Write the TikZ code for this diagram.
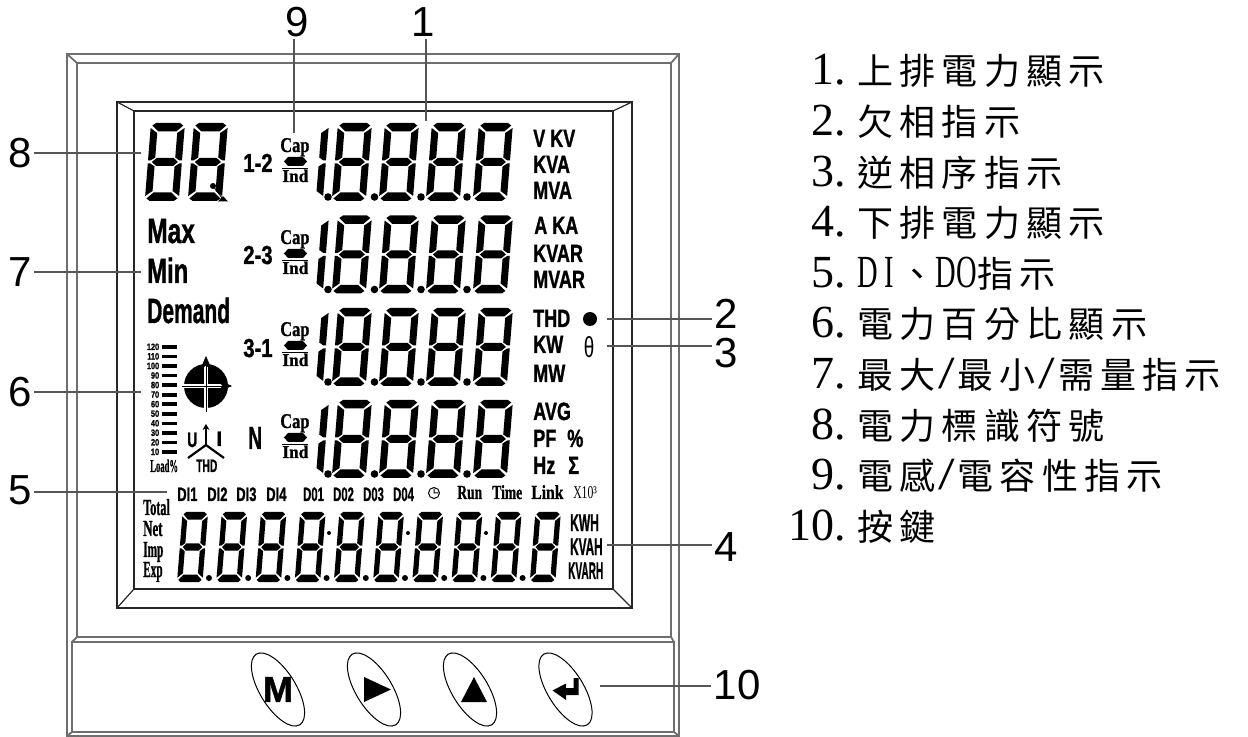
\documentclass[tikz,border=0pt]{standalone}
\usepackage{fontspec}
\setmainfont[BoldFeatures={FakeBold=1.3}]{Liberation Sans}
\newfontfamily\lcdserif[BoldFeatures={FakeBold=1}]{Liberation Serif}
\newfontfamily\cjkfont[LetterSpace=17.5]{Noto Sans CJK TC}
\usetikzlibrary{arrows.meta, shapes.geometric}
\definecolor{leadgray}{HTML}{555555}
\definecolor{framegray}{HTML}{6E6E6E}
\newcommand\lcdone{%
  \fill (34,5)--(27,10)--(27,34.5)--(31.5,37.5)--(34,37.5)--cycle;
  \fill (34,73)--(27,68)--(27,43.5)--(31.5,40.5)--(34,40.5)--cycle;}
\newcommand\lcdeight{\lcdone
  \fill (0,5)--(7,10)--(7,34.5)--(2.5,37.5)--(0,37.5)--cycle;
  \fill (0,73)--(7,68)--(7,43.5)--(2.5,40.5)--(0,40.5)--cycle;
  \fill (5,0)--(29,0)--(32.5,2.5)--(26,8.5)--(8,8.5)--(1.5,2.5)--cycle;
  \fill (5,78)--(29,78)--(32.5,75.5)--(26,69.5)--(8,69.5)--(1.5,75.5)--cycle;
  \fill (4,39)--(8.5,35)--(25.5,35)--(30,39)--(25.5,43)--(8.5,43)--cycle;}
\newcommand\hw[1]{\makebox[10.5pt]{\fontsize{23}{23}\selectfont\lcdserif\scalebox{.62}[1]{#1}}}
\newcommand\hwslash{\makebox[11pt]{\fontsize{23}{23}\selectfont\lcdserif\scalebox{1.3}[1]{/}}}
\begin{document}
\begin{tikzpicture}[x=0.5pt, y=-0.5pt,
    lbl/.style={font=\fontsize{21}{21}\selectfont, inner sep=1pt},
    leader/.style={draw=leadgray, line width=0.6pt},
    frameout/.style={draw=framegray, line width=0.9pt},
    framein/.style={draw=black!85, line width=0.6pt},
    lcdsans/.style={font=\fontsize{#1}{#1}\selectfont\bfseries, inner sep=0pt, anchor=base west},
    lcdroman/.style={font=\fontsize{#1}{#1}\selectfont\lcdserif\bfseries, inner sep=0pt, anchor=base west},
    lcdthin/.style={font=\fontsize{#1}{#1}\selectfont, inner sep=0pt},
    keyoval/.style={ellipse, draw, line width=0.5pt, inner sep=0pt, minimum width=18pt, minimum height=41.5pt, rotate=31.6},
    legnum/.style={font=\fontsize{23}{23}\selectfont\lcdserif, inner sep=0pt, anchor=base east},
    legtext/.style={font=\fontsize{18}{18}\selectfont\cjkfont, inner sep=0pt, anchor=base west},
]
    \useasboundingbox (0,0) rectangle (1248,737);

    % Case and display frames
    \draw[frameout] (67,54) rectangle (679,736);
    \draw[frameout] (77,637) -- (77,63) -- (671,63) -- (671,637) -- cycle;
    \draw[frameout] (72,642) rectangle (674,732);
    \draw[frameout] (67,54) -- (77,63) (679,54) -- (671,63);
    \draw[frameout] (77,637) -- (72,642) (671,637) -- (674,642);
    \draw[frameout] (67,736) -- (72,732) (679,736) -- (674,732);
    \draw[framein] (117,102) rectangle (632,608);
    \draw[framein] (134,111) rectangle (613,589);
    \draw[framein] (117,102) -- (134,111) (632,102) -- (613,111);
    \draw[framein] (117,608) -- (134,589) (632,608) -- (613,589);

    % Upper digit rows
    \foreach \rowy in {123,215.5,308,400} {
        \begin{scope}[shift={(295,\rowy)}, xslant=.08]\lcdone\end{scope}
        \foreach \cx in {338,385,432,479} {
            \begin{scope}[shift={(\cx,\rowy)}, xslant=.08]\lcdeight\end{scope}
        }
        \foreach \cx in {328,374.5,421,467} {
            \fill (\cx,\rowy+74) circle (3.8);
        }
    }

    % Symbol digits
    \begin{scope}[shift={(151,123)}, xslant=.08]\lcdeight\end{scope}
    \begin{scope}[shift={(194,123)}, xslant=.08]\lcdeight\end{scope}
    \fill (213,186) circle (3);
    \draw[line width=0.4pt] (213,186) -- (222,198);
    \fill (218,201.5) -- (223,196) -- (228,201.5) -- cycle;

    % Lower digit row
    \foreach \i in {0,...,9} {
        \begin{scope}[shift={(182.6+39.2*\i,512)}, xslant=.08, xscale=.75, yscale=.9]\lcdeight\end{scope}
    }
    \foreach \i in {0,...,8} {
        \fill (209+39.2*\i,578) circle (3);
    }
    \foreach \cx in {329,408,486} {
        \fill (\cx,533) circle (2);
    }

    % Cap and Ind marks
    \foreach \off [count=\r] in {0,92,184,276} {
        \begin{scope}[shift={(0,\off)}]
            \node[lcdroman=10.5, xscale=.78] (cap\r) at (280,152) {Cap};
            \node[lcdroman=9, xscale=.96] (ind\r) at (282,182) {Ind};
            \fill (284,161.5) -- (288,157) -- (303,157) -- (307,161.5) -- (303,166) -- (288,166) -- cycle;
            \draw[line width=0.7pt] (282,168.5) -- (308,168.5);
        \end{scope}
    }
    \foreach \txt/\yy [count=\i] in {1-2/172,2-3/264,3-1/357} {
        \node[lcdsans=13, xscale=.78] (phase\i) at (243,\yy) {\txt};
    }
    \node[lcdsans=16, xscale=.6] (phasen) at (248,449) {N};

    % Unit labels
    \foreach \txt/\xx/\yy [count=\i] in {V KV/533/147,KVA/533/173,MVA/533/199,A KA/534/234,KVAR/533/262,MVAR/533/288,THD/533/327,KW/533/353,MW/533/382,AVG/533/420,PF/533/447,\%/567/447,Hz/533/474,Σ/568/474} {
        \node[lcdsans=12.5, xscale=.72] (unit\i) at (\xx,\yy) {\txt};
    }
    \fill (590,319) circle (7);
    \node[lcdthin=14.5, xscale=.65] (theta) at (589,347) {θ};

    % Max, Min and Demand
    \node[lcdsans=17.5, xscale=.7] (maxtxt) at (147,243) {Max};
    \node[lcdsans=17.5, xscale=.68] (mintxt) at (147,283) {Min};
    \node[lcdsans=17.5, xscale=.6] (demandtxt) at (147,323) {Demand};

    % Load bar
    \foreach \lev [count=\i from 0] in {120,110,100,90,80,70,60,50,40,30,20,10} {
        \node[lcdsans=4.6, anchor=base east, xscale=.8] (lev\i) at (159.5,350+9.55*\i) {\lev};
        \fill (162,345.2+9.55*\i) rectangle (177,348.8+9.55*\i);
    }
    \node[lcdroman=9, xscale=.48] (loadtxt) at (150,472) {Load\%};

    % Quadrant disc
    \fill (206,386) circle (22);
    \draw[white, line width=1.8pt] (183,386) -- (229,386) (206,363) -- (206,409);
    \draw[line width=0.3pt, -{Stealth[length=7pt, width=6pt]}] (182,386) -- (232,386);
    \draw[line width=0.3pt, -{Stealth[length=7pt, width=6pt]}] (206,412) -- (206,356);

    % Phase symbol
    \draw[line width=1.1pt, -{Stealth[length=3pt, width=3.5pt]}] (206,445) -- (206,424);
    \draw[line width=1.1pt] (188,458) -- (206,445) -- (224,458);
    \node[lcdsans=10.5, xscale=.66] (utxt) at (187,447) {U};
    \node[lcdsans=10.5] (itxt) at (216,446) {I};
    \node[lcdsans=9, xscale=.57] (thdtxt) at (196,472) {THD};

    % Status row
    \foreach \txt/\xx [count=\i] in {DI1/177,DI2/207,DI3/236,DI4/266} {
        \node[lcdsans=9.7, xscale=.67] (di\i) at (\xx,501) {\txt};
    }
    \foreach \txt/\xx [count=\i] in {D01/303,D02/333,D03/363,D04/393} {
        \node[lcdsans=9.7, xscale=.58] (do\i) at (\xx,501) {\txt};
    }
    \draw[line width=0.5pt] (434,493) circle (5.5) (434,489) -- (434,493) -- (438,493);
    \node[lcdroman=10, xscale=.68] (runtxt) at (457,499) {Run};
    \node[lcdroman=10, xscale=.68] (timetxt) at (492,499) {Time};
    \node[lcdroman=10, xscale=.78] (linktxt) at (531,499) {Link};
    \node[lcdthin=9, anchor=base west, font=\fontsize{9}{9}\selectfont\lcdserif, xscale=.65] (xtentxt) at (573,499) {X10³};

    % Energy labels
    \node[lcdroman=11.5, xscale=.53] (totaltxt) at (143,515) {Total};
    \node[lcdroman=11.5, xscale=.56] (nettxt) at (143,536) {Net};
    \node[lcdroman=11.5, xscale=.49] (imptxt) at (143,557) {Imp};
    \node[lcdroman=11.5, xscale=.49] (exptxt) at (143,577) {Exp};
    \node[lcdsans=12, xscale=.5] (kwhtxt) at (570,531) {KWH};
    \node[lcdsans=12, xscale=.49] (kvahtxt) at (570,555) {KVAH};
    \node[lcdsans=12, xscale=.42] (kvarhtxt) at (568,579) {KVARH};

    % Keys
    \foreach \cx/\nm in {278/m,374/play,470/up,565.5/enter} {
        \node[keyoval] (btn\nm) at (\cx,689.5) {};
    }
    \node[lcdthin=18, font=\fontsize{18}{18}\selectfont\bfseries] (mtxt) at (btnm.center) {M};
    \fill (364,677) -- (391,689.5) -- (364,702) -- cycle;
    \fill (461,702) -- (474,677) -- (487,702) -- cycle;
    \fill (552.5,690.5) -- (566,683.5) -- (566,688) -- (573.5,688) -- (573.5,678) -- (578.5,678) -- (578.5,695) -- (566,695) -- (566,700) -- cycle;

    % Callouts
    \node[lbl] (lblnine) at (297.5,22) {9};
    \node[lbl] (lblone) at (423,22) {1};
    \node[lbl] (lbleight) at (20,153) {8};
    \node[lbl] (lblseven) at (20,272) {7};
    \node[lbl] (lblsix) at (20,392) {6};
    \node[lbl] (lblfive) at (20,490) {5};
    \node[lbl] (lbltwo) at (726,314) {2};
    \node[lbl] (lblthree) at (726,353) {3};
    \node[lbl] (lblfour) at (726,547) {4};
    \node[lbl] (lblten) at (737,685) {10};
    \coordinate (tipnine) at (294,133);
    \coordinate (tipone) at (426,121);
    \coordinate (tipeight) at (141,153);
    \coordinate (tipseven) at (141,272);
    \coordinate (tipsix) at (141,392);
    \coordinate (tipfive) at (167,492);
    \coordinate (tiptwo) at (607,319);
    \coordinate (tipthree) at (607,346);
    \coordinate (tipfour) at (607,545);
    \coordinate (tipten) at (600,686);
    \draw[leader] (lblnine.south -| tipnine) -- (tipnine);
    \draw[leader] (lblone.south -| tipone) -- (tipone);
    \foreach \nm in {eight,seven,six,five} {
        \draw[leader] (lbl\nm.east |- tip\nm) -- (tip\nm);
    }
    \foreach \nm in {two,three,four,ten} {
        \draw[leader] (lbl\nm.west |- tip\nm) -- (tip\nm);
    }

    % Legend
    \foreach \num/\desc [count=\i] in {1./上排電力顯示,2./欠相指示,3./逆相序指示,4./下排電力顯示,5./\hw{D}\hw{I}、\hw{D}\hw{O}指示,6./電力百分比顯示,7./最大\hwslash 最小\hwslash 需量指示,8./電力標識符號,9./電感\hwslash 電容性指示,10./按鍵} {
        \node[legnum] (legnum\i) at (846,{85+50.6*(\i-1)}) {\num};
        \node[legtext] (legtext\i) at (857,{85+50.6*(\i-1)}) {\desc};
    }
\end{tikzpicture}
\end{document}
